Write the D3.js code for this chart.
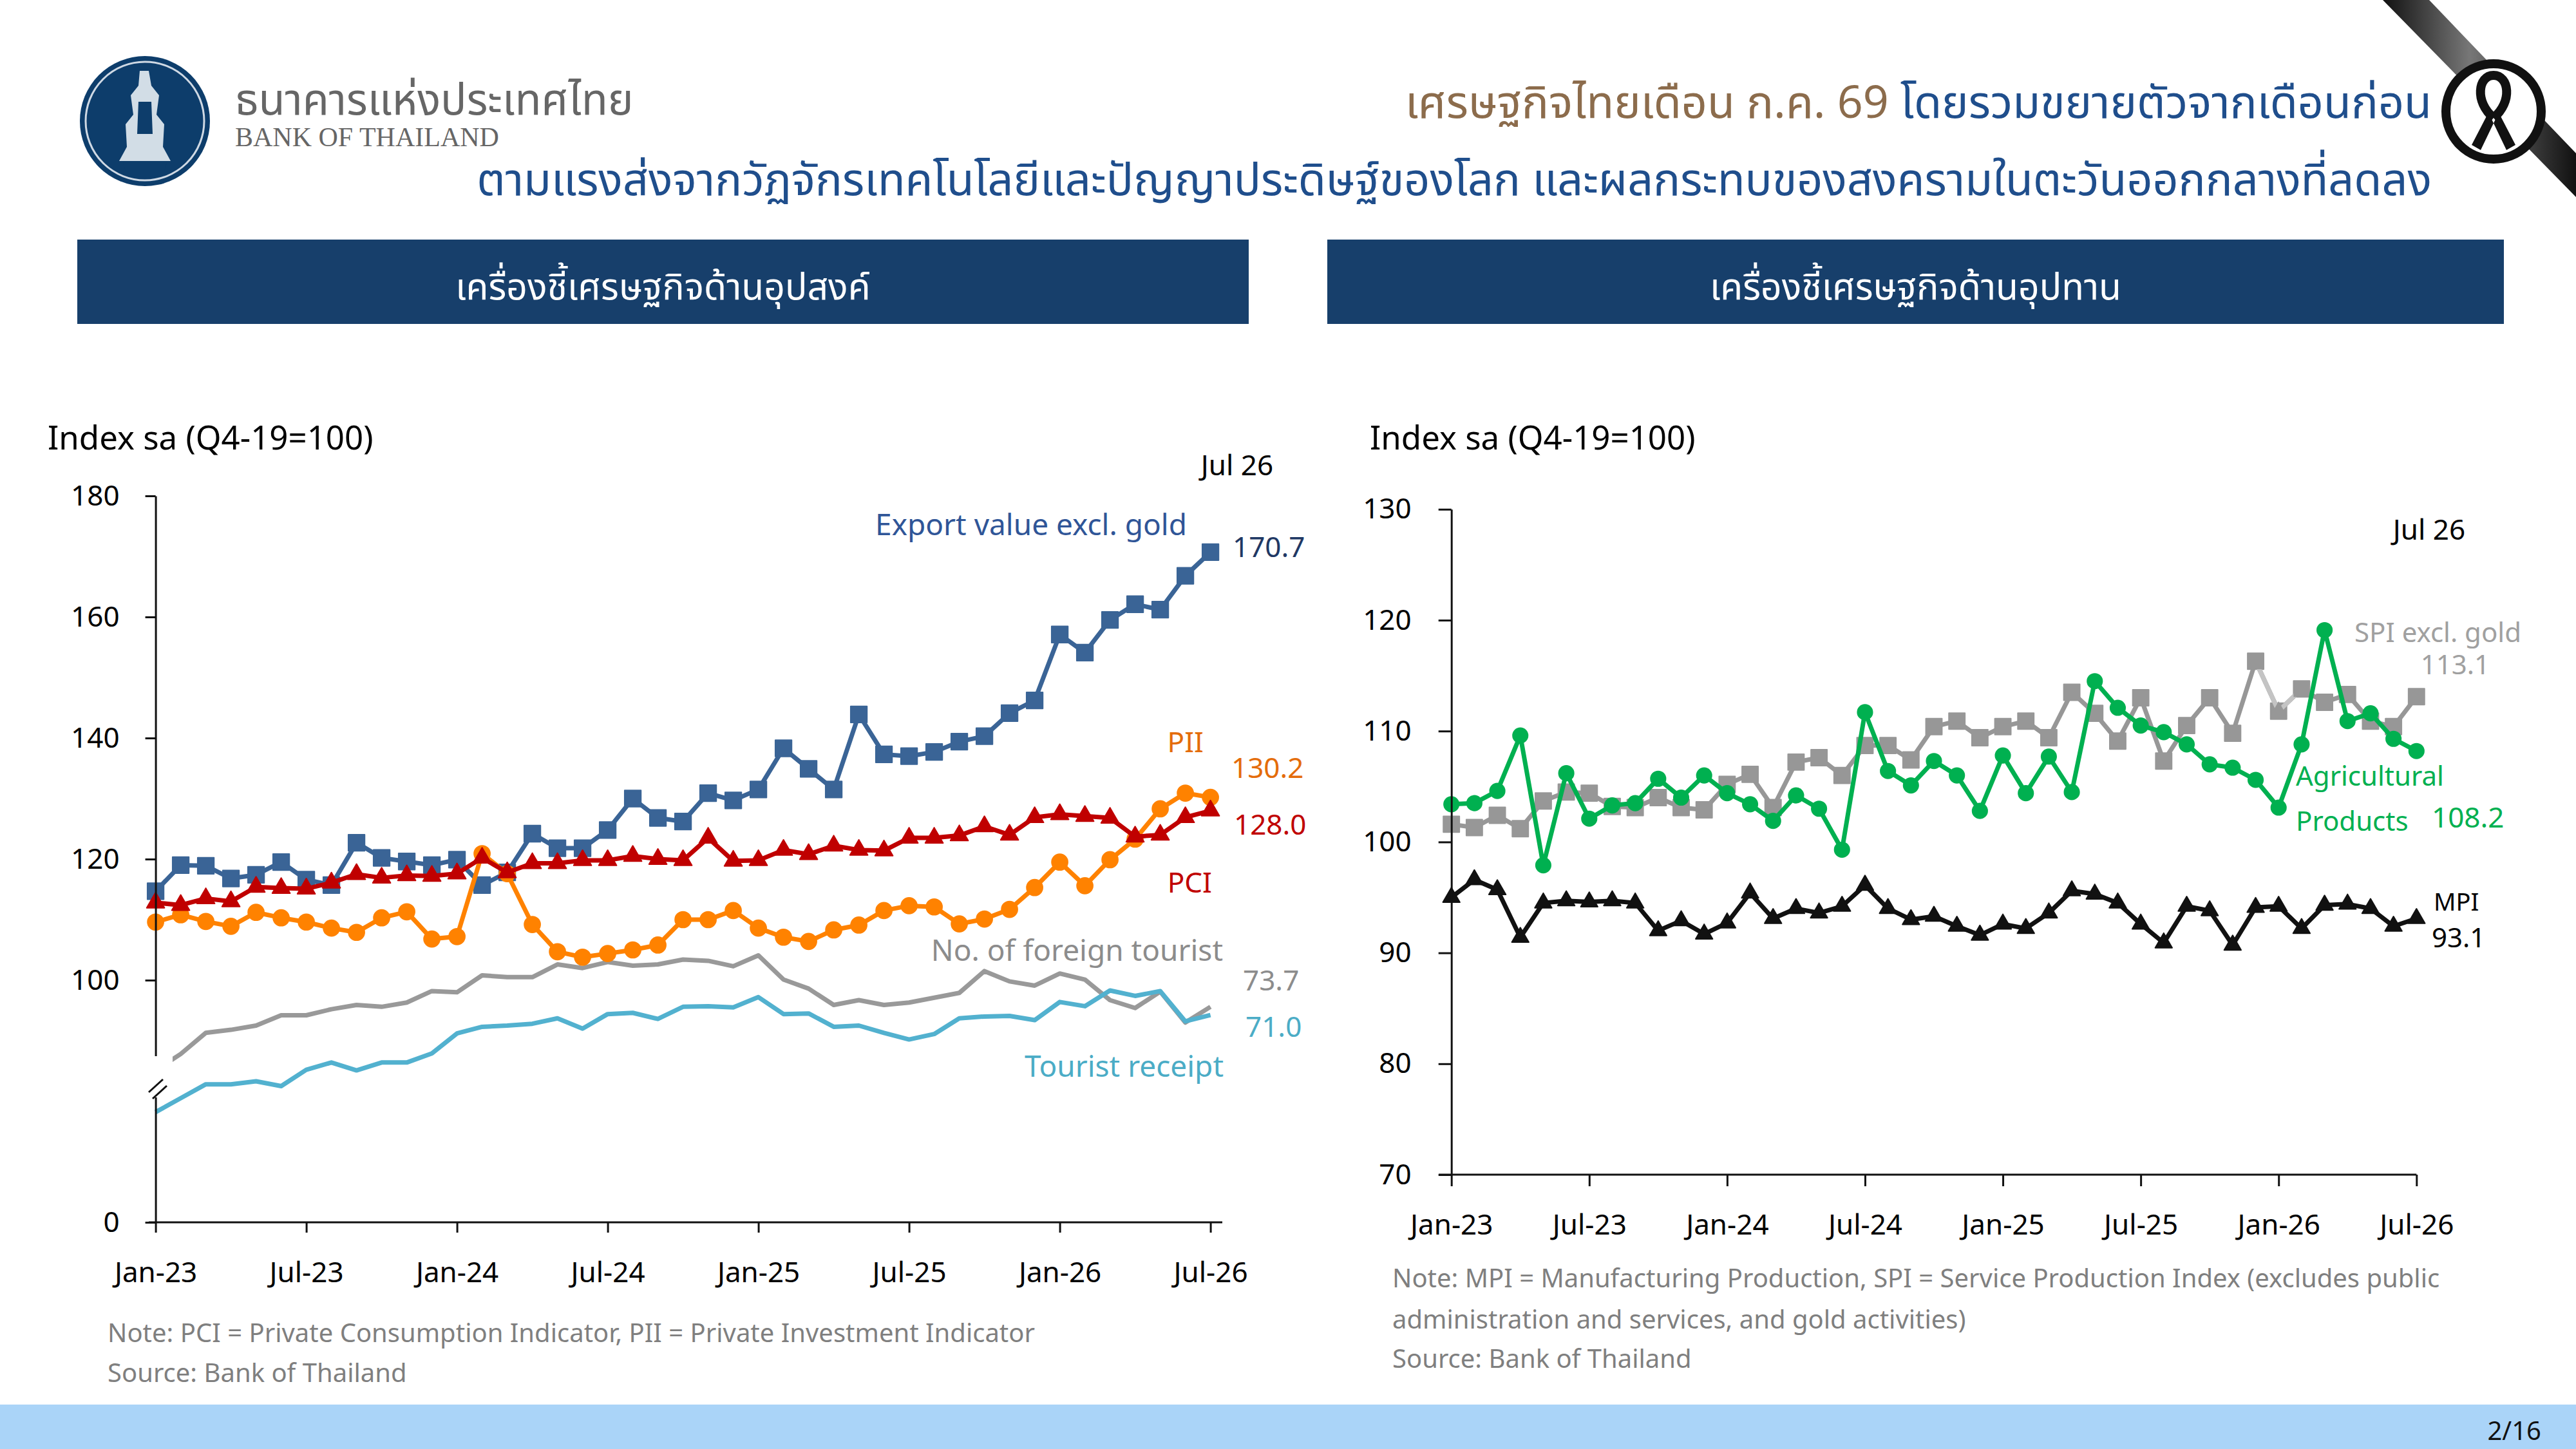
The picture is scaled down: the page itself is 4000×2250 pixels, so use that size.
<!DOCTYPE html>
<html>
<head>
<meta charset="utf-8">
<script src="https://cdn.jsdelivr.net/npm/d3@7"></script>
<style>
  body { margin: 0; background: #fff; }
  svg text { font-family: "Noto Sans", "Noto Sans Thai", "Loma", "Garuda", "DejaVu Sans", sans-serif; }
</style>
</head>
<body>
<svg id="chart" width="4000" height="2250"></svg>
<script>
// month index 0 = Jan-23 ... 42 = Jul-26
const tickMonths = [0, 6, 12, 18, 24, 30, 36, 42];
const tickLabels = ["Jan-23", "Jul-23", "Jan-24", "Jul-24", "Jan-25", "Jul-25", "Jan-26", "Jul-26"];

// demand side (left)
const exportVal = [114.7,119.0,118.9,116.8,117.4,119.5,116.6,115.7,122.7,120.2,119.6,119.0,119.9,115.7,117.8,124.2,121.8,121.8,124.8,130.0,126.8,126.2,130.9,129.7,131.5,138.3,134.9,131.5,143.9,137.3,137.0,137.7,139.4,140.3,144.1,146.2,157.1,154.1,159.5,162.1,161.2,166.8,170.7];
const pci = [112.8,112.4,113.5,113.0,115.4,115.2,115.1,116.1,117.5,116.9,117.3,117.2,117.6,120.2,117.8,119.3,119.3,119.8,119.8,120.5,120.0,119.8,123.5,119.7,119.8,121.5,120.8,122.2,121.5,121.4,123.5,123.5,123.9,125.4,124.0,126.9,127.4,127.1,126.8,123.7,124.0,126.9,128.0];
const pii = [109.6,110.8,109.7,108.9,111.2,110.3,109.6,108.6,107.9,110.3,111.3,106.8,107.2,120.9,117.6,109.2,104.7,103.8,104.4,105.0,105.8,110.0,110.0,111.5,108.6,107.1,106.4,108.3,109.1,111.5,112.3,112.1,109.3,110.1,111.7,115.3,119.5,115.6,119.9,123.3,128.3,130.9,130.2];
// tourism series sit on a hidden secondary scale
const tourists = [52.7,58.1,65.1,66.1,67.5,70.9,70.9,72.9,74.3,73.7,75.1,78.9,78.5,84.1,83.5,83.5,87.7,86.5,88.5,87.3,87.7,89.3,88.9,87.1,90.7,82.7,79.7,74.3,75.9,74.3,75.1,76.7,78.3,85.5,82.1,80.7,84.7,82.7,75.9,73.3,78.7,68.5,73.7];
const receipts = [38.9,43.5,48.1,48.1,49.1,47.5,52.9,55.3,52.7,55.3,55.3,58.3,64.9,67.1,67.5,68.1,69.9,66.5,71.3,71.7,69.7,73.7,73.9,73.5,76.9,71.3,71.5,67.1,67.5,65.1,62.9,64.7,69.9,70.5,70.7,69.3,75.3,73.9,79.1,77.3,78.9,68.9,71.0];

// supply side (right)
const mpi = [95.0,96.6,95.7,91.4,94.5,94.7,94.6,94.7,94.5,92.0,92.9,91.7,92.7,95.4,93.1,94.0,93.6,94.2,96.1,94.0,93.0,93.3,92.4,91.6,92.6,92.2,93.6,95.6,95.3,94.5,92.6,90.9,94.2,93.8,90.7,94.1,94.2,92.2,94.3,94.4,94.0,92.4,93.1];
const agri = [103.4,103.5,104.6,109.6,97.9,106.2,102.1,103.3,103.5,105.7,104.0,106.0,104.4,103.4,101.9,104.2,103.0,99.3,111.7,106.4,105.1,107.3,106.0,102.8,107.8,104.4,107.7,104.5,114.5,112.1,110.5,109.9,108.8,107.0,106.7,105.6,103.1,108.8,119.1,110.9,111.6,109.3,108.2];
const spi = [101.6,101.3,102.4,101.2,103.7,104.5,104.4,103.2,103.1,104.0,103.1,102.9,105.2,106.1,103.1,107.2,107.6,106.0,108.7,108.7,107.4,110.4,110.9,109.4,110.4,110.9,109.4,113.5,111.6,109.1,113.0,107.3,110.5,113.0,109.8,116.3,111.8,113.8,112.6,113.3,110.9,110.4,113.1];

const leftTicks = [60, 100, 120, 140, 160, 180];
const rightTicks = [70, 80, 90, 100, 110, 120, 130];

const svg = d3.select("#chart");
svg.append("rect").attr("width", 4000).attr("height", 2250).attr("fill", "#fff");

// ---------- header ----------
let defs = svg.append("defs");
let grad = defs.append("linearGradient").attr("id", "band")
    .attr("x1", "0").attr("y1", "0").attr("x2", "1").attr("y2", "0");
grad.append("stop").attr("offset", "0%").attr("stop-color", "#111");
grad.append("stop").attr("offset", "45%").attr("stop-color", "#777");
grad.append("stop").attr("offset", "100%").attr("stop-color", "#111");

// logo
let logo = svg.append("g").attr("transform", "translate(225,188)");
logo.append("circle").attr("r", 101).attr("fill", "#0d3d6b");
logo.append("circle").attr("r", 92).attr("fill", "none").attr("stroke", "#cfd9e4").attr("stroke-width", 3);
logo.append("path")
    .attr("d", "M-8,-78 L6,-78 L10,-55 L22,-40 L18,-10 L30,5 L28,40 L40,62 L-40,62 L-28,40 L-30,5 L-18,-10 L-22,-40 L-10,-55 Z")
    .attr("fill", "#e8eef4").attr("opacity", 0.9);
logo.append("path")
    .attr("d", "M-10,-30 L10,-30 L12,20 L-12,20 Z M-34,64 L34,64 L30,78 L-30,78 Z")
    .attr("fill", "#0d3d6b");

svg.append("text").attr("x", 365).attr("y", 178).text("ธนาคารแห่งประเทศไทย")
    .style("font-size", "67px").style("fill", "#666");
svg.append("text").attr("x", 365).attr("y", 227).text("BANK OF THAILAND")
    .style("font-size", "42px").style("fill", "#666")
    .style("font-family", "'Liberation Serif', 'DejaVu Serif', serif");

let t1 = svg.append("text").attr("x", 3776).attr("y", 183).style("text-anchor", "end")
    .style("font-size", "70px");
t1.append("tspan").text("เศรษฐกิจไทยเดือน ก.ค. 69 ").style("fill", "#8c6c4c");
t1.append("tspan").text("โดยรวมขยายตัวจากเดือนก่อน").style("fill", "#1f4e8c");
svg.append("text").attr("x", 3776).attr("y", 303).style("text-anchor", "end")
    .style("font-size", "70px").style("fill", "#1f4e8c")
    .text("ตามแรงส่งจากวัฏจักรเทคโนโลยีและปัญญาประดิษฐ์ของโลก และผลกระทบของสงครามในตะวันออกกลางที่ลดลง");

// mourning ribbon top right
svg.append("polygon").attr("points", "3700,0 3772,0 4000,238 4000,306").attr("fill", "url(#band)");
let rib = svg.append("g").attr("transform", "translate(3872,173)");
rib.append("circle").attr("r", 74).attr("fill", "#fff").attr("stroke", "#111").attr("stroke-width", 14);
rib.append("path")
    .attr("d", "M-6,-2 L-34,52 L-20,60 L4,10 Z M6,-2 L34,52 L20,60 L-4,10 Z")
    .attr("fill", "#111");
rib.append("path")
    .attr("d", "M0,10 C-30,-15 -24,-56 0,-56 C24,-56 30,-15 0,10")
    .attr("fill", "none").attr("stroke", "#111").attr("stroke-width", 14);

// section banners
const banners = [
    {x: 120, w: 1819, label: "เครื่องชี้เศรษฐกิจด้านอุปสงค์"},
    {x: 2061, w: 1827, label: "เครื่องชี้เศรษฐกิจด้านอุปทาน"}
];
banners.forEach(function (b) {
    svg.append("rect").attr("x", b.x).attr("y", 372).attr("width", b.w).attr("height", 131)
        .attr("fill", "#173f6b");
    svg.append("text").attr("x", b.x + b.w / 2).attr("y", 465).style("text-anchor", "middle")
        .style("font-size", "57px").style("fill", "#fff").text(b.label);
});

// footer bar
svg.append("rect").attr("x", 0).attr("y", 2181).attr("width", 4000).attr("height", 69).attr("fill", "#aad4f8");
svg.append("text").attr("x", 3946).attr("y", 2236).style("text-anchor", "end")
    .style("font-size", "40px").style("fill", "#111").text("2/16");

// ---------- helpers ----------
function styleAxis(g) {
    g.selectAll(".domain").attr("stroke", "#111").attr("stroke-width", 3);
    g.selectAll(".tick line").attr("stroke", "#111").attr("stroke-width", 3);
    g.selectAll(".tick text").style("font-size", "44px").style("fill", "#000")
        .style("font-family", "'Noto Sans', sans-serif");
}

function drawSeries(g, data, x, y, color, width, symbol, size) {
    let line = d3.line().x((d, i) => x(i)).y(d => y(d));
    g.append("path").datum(data).attr("d", line)
        .attr("fill", "none").attr("stroke", color).attr("stroke-width", width)
        .attr("stroke-linejoin", "round");
    if (symbol) {
        g.selectAll(null).data(data).enter().append("path")
            .attr("transform", (d, i) => "translate(" + x(i) + "," + y(d) + ")")
            .attr("d", d3.symbol().type(symbol).size(size))
            .attr("fill", color).attr("stroke", color).attr("stroke-width", 2)
            .attr("stroke-linejoin", "round");
    }
}

function label(txt, x, y, color, size, anchor) {
    svg.append("text").attr("x", x).attr("y", y).text(txt)
        .style("font-size", (size || 44) + "px").style("fill", color)
        .style("text-anchor", anchor || "start");
}

// ---------- left chart ----------
let xL = d3.scaleLinear().domain([0, 42]).range([241.6, 1879.6]);
let yL = d3.scaleLinear().domain([60, 180]).range([1898, 770]);
let yT = d3.scaleLinear().domain([2.5, 242.5]).range([1898, 770]);

let left = svg.append("g");
drawSeries(left, tourists, xL, yT, "#999999", 7, null);
drawSeries(left, receipts, xL, yT, "#52b1cf", 7, null);

// axis break
left.append("polygon").attr("points", "226,1702 268,1662 268,1628 226,1640").attr("fill", "#fff");

drawSeries(left, exportVal, xL, yL, "#3a6496", 7, d3.symbolSquare, 640);
drawSeries(left, pii, xL, yL, "#ff8200", 7, d3.symbolCircle, 480);
drawSeries(left, pci, xL, yL, "#c00000", 7, d3.symbolTriangle, 330);

let yAxL = left.append("g").attr("transform", "translate(241.6,0)")
    .call(d3.axisLeft(yL).tickValues(leftTicks).tickSize(16).tickPadding(40).tickSizeOuter(0)
        .tickFormat(d => d === 60 ? "0" : d));
styleAxis(yAxL);
// white gap in the y axis at the break
left.append("rect").attr("x", 234).attr("y", 1640).attr("width", 16).attr("height", 64).attr("fill", "#fff");
left.append("line").attr("x1", 231).attr("y1", 1696).attr("x2", 253).attr("y2", 1676)
    .attr("stroke", "#111").attr("stroke-width", 3);
left.append("line").attr("x1", 237).attr("y1", 1706).attr("x2", 259).attr("y2", 1686)
    .attr("stroke", "#111").attr("stroke-width", 3);

let xAxL = left.append("g").attr("transform", "translate(0,1898)")
    .call(d3.axisBottom(xL).tickValues(tickMonths).tickSize(16).tickPadding(46).tickSizeOuter(0)
        .tickFormat((d, i) => tickLabels[i]));
xAxL.select(".domain").attr("d", "M231,0H1898");
styleAxis(xAxL);

label("Index sa (Q4-19=100)", 74, 698, "#000", 51);
label("Jul 26", 1921, 738, "#000", 44, "middle");
label("Export value excl. gold", 1843, 831, "#2f5597", 46, "end");
label("170.7", 1914, 865, "#203864", 44);
label("PII", 1869, 1168, "#e46c0a", 44, "end");
label("130.2", 1912, 1208, "#e46c0a", 44);
label("128.0", 1916, 1296, "#c00000", 44);
label("PCI", 1882, 1386, "#c00000", 44, "end");
label("No. of foreign tourist", 1899, 1492, "#8c8c8c", 46, "end");
label("73.7", 1930, 1538, "#8c8c8c", 44);
label("71.0", 1934, 1610, "#4bacc6", 44);
label("Tourist receipt", 1900, 1672, "#4bacc6", 46, "end");
label("Note: PCI = Private Consumption Indicator, PII = Private Investment Indicator", 167, 2084, "#7f7f7f", 40);
label("Source: Bank of Thailand", 167, 2146, "#7f7f7f", 40);

// ---------- right chart ----------
let xR = d3.scaleLinear().domain([0, 42]).range([2253.7, 3752.3]);
let yR = d3.scaleLinear().domain([70, 130]).range([1824, 790.8]);

let right = svg.append("g");
drawSeries(right, spi, xR, yR, "#979797", 7, d3.symbolSquare, 620);
// lighter stretch around Jan-26 with a triangle marker
right.append("path").datum(spi.slice(35, 38))
    .attr("d", d3.line().x((d, i) => xR(i + 35)).y(d => yR(d)))
    .attr("fill", "none").attr("stroke", "#c4c4c4").attr("stroke-width", 7);
right.append("path").attr("transform", "translate(" + xR(36) + "," + yR(spi[36]) + ")")
    .attr("d", d3.symbol().type(d3.symbolTriangle).size(300)).attr("fill", "#979797");
right.append("path").attr("transform", "translate(" + xR(35) + "," + yR(spi[35]) + ")")
    .attr("d", d3.symbol().type(d3.symbolSquare).size(620)).attr("fill", "#979797");
right.append("path").attr("transform", "translate(" + xR(37) + "," + yR(spi[37]) + ")")
    .attr("d", d3.symbol().type(d3.symbolSquare).size(620)).attr("fill", "#979797");

drawSeries(right, agri, xR, yR, "#00b050", 7, d3.symbolCircle, 420);
drawSeries(right, mpi, xR, yR, "#111111", 7, d3.symbolTriangle, 300);

let yAxR = right.append("g").attr("transform", "translate(2253.7,0)")
    .call(d3.axisLeft(yR).tickValues(rightTicks).tickSize(20).tickPadding(42).tickSizeOuter(0));
styleAxis(yAxR);
let xAxR = right.append("g").attr("transform", "translate(0,1824)")
    .call(d3.axisBottom(xR).tickValues(tickMonths).tickSize(18).tickPadding(44).tickSizeOuter(0)
        .tickFormat((d, i) => tickLabels[i]));
xAxR.select(".domain").attr("d", "M2234,0H3752.3");
styleAxis(xAxR);

label("Index sa (Q4-19=100)", 2127, 698, "#000", 51);
label("Jul 26", 3772, 838, "#000", 44, "middle");
label("SPI excl. gold", 3915, 997, "#a0a0a0", 42, "end");
label("113.1", 3866, 1047, "#a0a0a0", 42, "end");
label("Agricultural", 3565, 1220, "#00b050", 42);
label("Products", 3565, 1290, "#00b050", 42);
label("108.2", 3776, 1285, "#00b050", 44);
label("MPI", 3779, 1414, "#000", 38);
label("93.1", 3776, 1471, "#000", 42);
label("Note: MPI = Manufacturing Production, SPI = Service Production Index (excludes public", 2162, 1999, "#7f7f7f", 40);
label("administration and services, and gold activities)", 2162, 2063, "#7f7f7f", 40);
label("Source: Bank of Thailand", 2162, 2124, "#7f7f7f", 40);
</script>
</body>
</html>
